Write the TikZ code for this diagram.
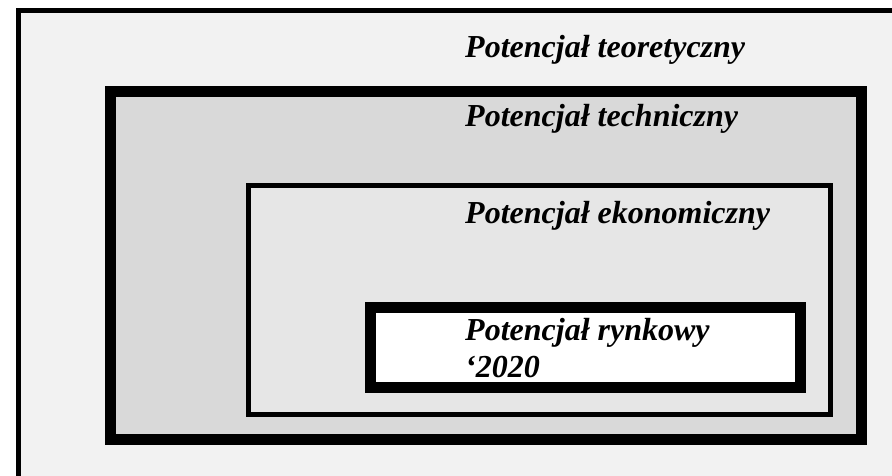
\documentclass[tikz,border=0pt]{standalone}
\usepackage{fontspec}
\setmainfont{Liberation Serif}
\usepackage{tikz}
\usetikzlibrary{positioning}
\definecolor{teorfill}{HTML}{F2F2F2}
\definecolor{techfill}{HTML}{D9D9D9}
\definecolor{ekonfill}{HTML}{E6E6E6}
\tikzset{
  thinbox/.style={draw=black, line width=5pt},
  thickbox/.style={draw=black, line width=11pt},
  potlabel/.style={anchor=base west, inner sep=0pt, align=left,
    font=\fontsize{32}{37}\selectfont\bfseries\itshape}
}
\begin{document}
\begin{tikzpicture}[x=1pt,y=-1pt]
\useasboundingbox (0,0) rectangle (892,475);
\clip (0,0) rectangle (892,475);
% nested boxes
\filldraw[thinbox, fill=teorfill] (18.5,10.5) rectangle (905,490);
\filldraw[thickbox, fill=techfill] (110.5,91.5) rectangle (861.5,439.5);
\filldraw[thinbox, fill=ekonfill] (248.5,185.5) rectangle (830.5,414.5);
\filldraw[thickbox, fill=white] (370.5,307.5) rectangle (800.5,387.5);
% labels
\node[potlabel] (teor) at (465,57) {Potencjał teoretyczny};
\node[potlabel] (tech) at (465,126) {Potencjał techniczny};
\node[potlabel] (ekon) at (465,223) {Potencjał ekonomiczny};
\node[potlabel] (rynk) at (465,377) {Potencjał rynkowy\\‘2020};
\end{tikzpicture}
\end{document}
